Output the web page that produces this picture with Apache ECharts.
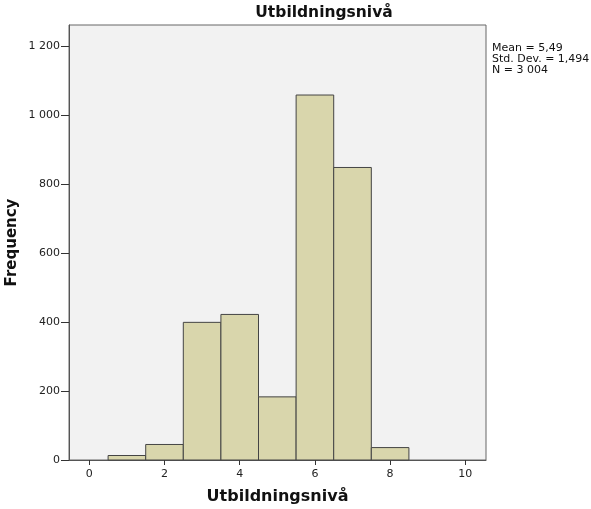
<!DOCTYPE html>
<html><head><meta charset="utf-8">
<script src="https://cdn.jsdelivr.net/npm/echarts@6/dist/echarts.min.js"></script>
<style>html,body{margin:0;padding:0;background:#fff}#c{width:591px;height:509px}</style>
</head><body><div id="c"></div>
<script>
const binStarts = [0.5, 1.5, 2.5, 3.5, 4.5, 5.5, 6.5, 7.5];
const binEnds   = [1.5, 2.5, 3.5, 4.5, 5.5, 6.5, 7.5, 8.5];
const counts    = [13, 45, 399, 422, 183, 1058, 848, 36];
const xTicks = [0, 2, 4, 6, 8, 10];
const yTicks = [0, 200, 400, 600, 800, 1000, 1200];
const statsLines = ['Mean = 5,49', 'Std. Dev. = 1,494', 'N = 3 004'];

const font = 'DejaVu Sans';
const data = binStarts.map((s, i) => [s, binEnds[i], counts[i]]);
const fmt = v => String(v).replace(/\B(?=(\d{3})+(?!\d))/g, ' ');

const chart = echarts.init(document.getElementById('c'));
chart.setOption({
  animation: false,
  backgroundColor: '#fff',
  title: {
    text: 'Utbildningsnivå', left: 319, top: 0, textAlign: 'center',
    textStyle: {fontFamily: font, fontSize: 15.5, fontWeight: 'bold', color: '#111'}
  },
  graphic: [{
    type: 'text', left: 492, top: 43,
    style: {text: statsLines.join('\n'), fontFamily: font, fontSize: 11, lineHeight: 11, fill: '#111'}
  }],
  grid: {left: 69, top: 25, right: 105, bottom: 49, show: true, outerBoundsMode: 'none', containLabel: false,
    backgroundColor: '#f2f2f2', borderColor: '#666', borderWidth: 1},
  xAxis: {
    type: 'value', min: -0.54, max: 10.55,
    name: 'Utbildningsnivå', nameLocation: 'middle', nameGap: 29, nameMoveOverlap: false,
    nameTextStyle: {fontFamily: font, fontSize: 16, fontWeight: 'bold', color: '#111'},
    axisLine: {show: true, onZero: false, lineStyle: {color: '#555'}},
    axisTick: {show: true, length: 5, customValues: xTicks, lineStyle: {color: '#333'}},
    axisLabel: {customValues: xTicks, fontFamily: font, fontSize: 11, color: '#222', margin: 9},
    splitLine: {show: false}
  },
  yAxis: {
    type: 'value', min: 0, max: 1261, interval: 200,
    name: 'Frequency', nameLocation: 'middle', nameGap: 49, nameRotate: 90, nameMoveOverlap: false,
    nameTextStyle: {fontFamily: font, fontSize: 15, fontWeight: 'bold', color: '#111'},
    axisLine: {show: true, onZero: false, lineStyle: {color: '#555'}},
    axisTick: {show: true, length: 8, lineStyle: {color: '#333'}},
    axisLabel: {fontFamily: font, fontSize: 11, color: '#222', margin: 9, formatter: v => fmt(v), showMaxLabel: false},
    splitLine: {show: false}
  },
  series: [{
    type: 'custom',
    data: data,
    encode: {x: [0, 1], y: 2},
    renderItem: (params, api) => {
      const p0 = api.coord([api.value(0), 0]);
      const p1 = api.coord([api.value(1), api.value(2)]);
      return {
        type: 'rect',
        shape: {x: p0[0], y: p1[1], width: p1[0] - p0[0], height: p0[1] - p1[1]},
        style: {fill: '#d9d6ac', stroke: '#444', lineWidth: 1}
      };
    }
  }]
});
</script></body></html>
